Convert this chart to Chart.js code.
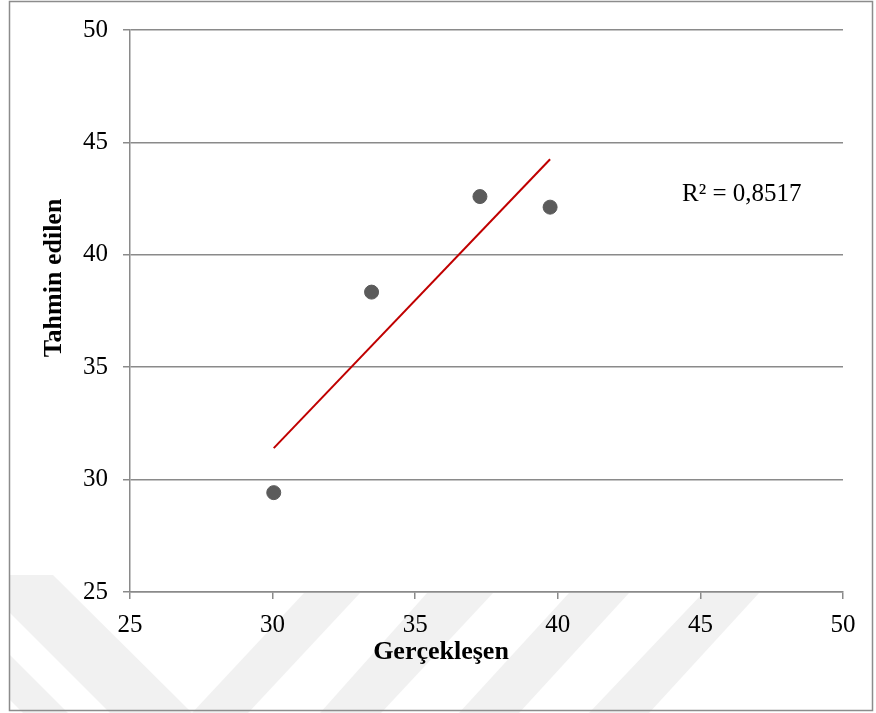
<!DOCTYPE html>
<html>
<head>
<meta charset="utf-8">
<script src="https://cdn.jsdelivr.net/npm/chart.js@4"></script>
<style>
html,body{margin:0;padding:0;background:#fff;}
#wrap{width:876px;height:713px;position:relative;}
</style>
</head>
<body>
<div id="wrap"><canvas id="c" width="876" height="713"></canvas></div>
<script>
// Data
const actualValues = [30.04, 33.47, 37.27, 39.73];      // Gerçekleşen
const predictedValues = [29.42, 38.34, 42.59, 42.12];   // Tahmin edilen
const trendX = [30.04, 39.73];
const trendY = [31.40, 44.25];
const tickValues = [25, 30, 35, 40, 45, 50];
const xTitle = 'Gerçekleşen';
const yTitle = 'Tahmin edilen';
const r2Label = 'R² = 0,8517';

const points = actualValues.map((x, i) => ({x: x, y: predictedValues[i]}));
const trend = trendX.map((x, i) => ({x: x, y: trendY[i]}));

const FONT = '"Liberation Serif", "Times New Roman", serif';
const GRID = '#8a8a8a';

// faint background watermark (decoration, not data)
const watermark = [
  [[10,575],[53,575],[192,713],[110,713],[10,613]],
  [[10,655],[68,713],[23,713],[10,700]],
  [[304,593],[360,593],[248,713],[192,713]],
  [[427,593],[493,593],[381,713],[320,713]],
  [[569,593],[629,593],[519,713],[459,713]],
  [[703,593],[759,593],[649,713],[589,713]]
];

const decor = {
  id: 'decor',
  beforeDraw(chart) {
    const ctx = chart.ctx;
    const a = chart.chartArea;
    ctx.save();
    ctx.fillStyle = '#fff';
    ctx.fillRect(0, 0, chart.width, chart.height);
    ctx.fillStyle = '#f1f1f1';
    watermark.forEach(poly => {
      ctx.beginPath();
      poly.forEach((p, i) => i ? ctx.lineTo(p[0], p[1]) : ctx.moveTo(p[0], p[1]));
      ctx.closePath();
      ctx.fill();
    });
    ctx.fillStyle = '#fff';
    ctx.fillRect(a.left, a.top, a.right - a.left, a.bottom - a.top);
    ctx.strokeStyle = '#8c8c8c';
    ctx.lineWidth = 1.5;
    ctx.strokeRect(9.5, 1.5, 863, 709);
    ctx.restore();
  },
  afterDraw(chart) {
    const ctx = chart.ctx;
    ctx.save();
    ctx.fillStyle = '#000';
    ctx.font = 'bold 26px ' + FONT;
    ctx.textAlign = 'center';
    ctx.textBaseline = 'middle';
    ctx.fillText(xTitle, 441, 652);
    ctx.save();
    ctx.translate(54, 278);
    ctx.rotate(-Math.PI / 2);
    ctx.fillText(yTitle, 0, 0);
    ctx.restore();
    ctx.font = '25px ' + FONT;
    ctx.textAlign = 'left';
    ctx.textBaseline = 'alphabetic';
    ctx.fillText(r2Label, 682, 201);
    ctx.restore();
  }
};

new Chart(document.getElementById('c'), {
  type: 'scatter',
  data: {
    datasets: [
      {
        label: 'Trend',
        type: 'line',
        data: trend,
        borderColor: '#c00000',
        borderWidth: 2,
        pointRadius: 0,
        fill: false,
        order: 2
      },
      {
        label: 'Veri',
        data: points,
        backgroundColor: '#5b5b5b',
        borderColor: '#5b5b5b',
        pointRadius: 7,
        pointHoverRadius: 7,
        order: 1
      }
    ]
  },
  options: {
    responsive: false,
    animation: false,
    devicePixelRatio: 1,
    layout: {padding: {left: 0, top: 30, right: 33, bottom: 0}},
    plugins: {legend: {display: false}, tooltip: {enabled: false}},
    scales: {
      x: {
        type: 'linear',
        min: 25, max: 50,
        afterBuildTicks(s) { s.ticks = tickValues.map(v => ({value: v})); },
        afterFit(s) { s.height = 121; },
        grid: {drawOnChartArea: false, drawTicks: true, tickLength: 7, color: GRID, lineWidth: 1.5},
        border: {color: GRID, width: 1.5},
        ticks: {color: '#000', font: {family: FONT, size: 25}, padding: 11, maxRotation: 0}
      },
      y: {
        type: 'linear',
        min: 25, max: 50,
        afterBuildTicks(s) { s.ticks = tickValues.map(v => ({value: v})); },
        afterFit(s) { s.width = 130; },
        grid: {drawOnChartArea: true, drawTicks: true, tickLength: 7, color: GRID, lineWidth: 1.5},
        border: {color: GRID, width: 1.5},
        ticks: {color: '#000', font: {family: FONT, size: 25}, padding: 15}
      }
    }
  },
  plugins: [decor]
});
</script>
</body>
</html>
